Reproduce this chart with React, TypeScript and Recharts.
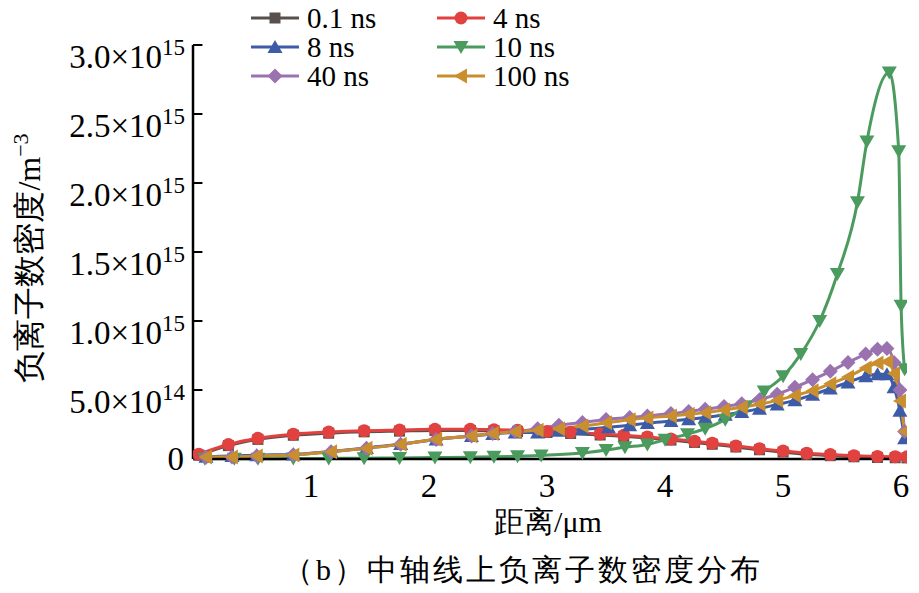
import { LineChart, Line, XAxis, YAxis, ReferenceLine } from "recharts";

// values in units of 1e14 m^-3, distance in µm
const xs01 = [0.05, 0.3, 0.55, 0.85, 1.15, 1.45, 1.75, 2.05, 2.35, 2.55, 2.75, 3.0, 3.2, 3.45, 3.65, 3.85, 4.05, 4.25, 4.4, 4.6, 4.8, 5.0, 5.2, 5.4, 5.6, 5.8, 5.95, 6.05];
const ys01 = [0.28, 0.97, 1.42, 1.72, 1.87, 1.97, 2.02, 2.07, 2.07, 2.04, 2.0, 1.92, 1.85, 1.74, 1.64, 1.52, 1.37, 1.2, 1.07, 0.87, 0.67, 0.5, 0.34, 0.24, 0.16, 0.11, 0.09, 0.08];

const xs4 = [0.05, 0.3, 0.55, 0.85, 1.15, 1.45, 1.75, 2.05, 2.35, 2.55, 2.75, 3.0, 3.2, 3.45, 3.65, 3.85, 4.05, 4.25, 4.4, 4.6, 4.8, 5.0, 5.2, 5.4, 5.6, 5.8, 5.95, 6.05];
const ys4 = [0.35, 1.05, 1.5, 1.8, 1.95, 2.05, 2.1, 2.15, 2.15, 2.12, 2.08, 2.0, 1.93, 1.82, 1.72, 1.6, 1.45, 1.28, 1.15, 0.95, 0.75, 0.58, 0.42, 0.32, 0.24, 0.19, 0.17, 0.16];

const xs8 = [0.11, 0.33, 0.54, 0.85, 1.17, 1.47, 1.76, 2.06, 2.36, 2.54, 2.73, 2.92, 3.1, 3.3, 3.52, 3.7, 3.85, 4.05, 4.2, 4.34, 4.51, 4.65, 4.8, 4.95, 5.1, 5.25, 5.4, 5.55, 5.7, 5.8, 5.88, 5.94, 5.99, 6.03];
const ys8 = [0.16, 0.22, 0.28, 0.33, 0.55, 0.8, 1.08, 1.42, 1.67, 1.82, 1.92, 1.92, 2.05, 2.15, 2.3, 2.45, 2.6, 2.75, 2.88, 3.0, 3.2, 3.4, 3.65, 3.95, 4.25, 4.65, 5.1, 5.55, 6.0, 6.15, 6.15, 5.2, 3.5, 1.5];

const xs10 = [0.1, 0.35, 0.55, 0.85, 1.15, 1.45, 1.75, 2.05, 2.35, 2.55, 2.75, 2.95, 3.3, 3.5, 3.66, 3.85, 4.0, 4.19, 4.34, 4.51, 4.68, 4.84, 5.0, 5.15, 5.31, 5.46, 5.63, 5.71, 5.9, 5.98, 6.0, 6.03];
const ys10 = [0.01, 0.01, 0.02, 0.03, 0.04, 0.06, 0.08, 0.1, 0.13, 0.16, 0.2, 0.26, 0.43, 0.65, 0.85, 1.05, 1.4, 1.8, 2.2, 2.85, 3.8, 4.9, 6.0, 7.6, 10.0, 13.4, 18.6, 23.0, 28.0, 22.3, 11.1, 6.5];

const xs40 = [0.11, 0.33, 0.54, 0.85, 1.17, 1.47, 1.76, 2.06, 2.36, 2.54, 2.73, 2.92, 3.1, 3.3, 3.5, 3.7, 3.85, 4.05, 4.2, 4.34, 4.5, 4.65, 4.8, 4.95, 5.1, 5.25, 5.4, 5.55, 5.7, 5.8, 5.88, 5.94, 5.99, 6.03];
const ys40 = [0.12, 0.15, 0.22, 0.3, 0.53, 0.78, 1.06, 1.42, 1.67, 1.85, 2.0, 2.2, 2.45, 2.65, 2.87, 3.0, 3.12, 3.29, 3.45, 3.6, 3.8, 4.0, 4.3, 4.69, 5.2, 5.75, 6.35, 7.0, 7.6, 7.95, 8.0, 7.0, 5.0, 2.0];

const xs100 = [0.11, 0.33, 0.54, 0.85, 1.17, 1.47, 1.76, 2.06, 2.36, 2.54, 2.73, 2.92, 3.1, 3.3, 3.5, 3.7, 3.85, 4.05, 4.2, 4.34, 4.5, 4.65, 4.8, 4.95, 5.1, 5.25, 5.4, 5.55, 5.7, 5.8, 5.88, 5.94, 5.99, 6.03];
const ys100 = [0.14, 0.14, 0.22, 0.29, 0.53, 0.77, 1.06, 1.43, 1.67, 1.84, 1.98, 2.08, 2.2, 2.39, 2.62, 2.85, 2.98, 3.12, 3.24, 3.36, 3.55, 3.75, 3.97, 4.25, 4.6, 4.95, 5.45, 5.95, 6.6, 6.95, 7.05, 6.2, 4.2, 2.0];

const yTicks = [0, 5, 10, 15, 20, 25, 30];
const xTicks = [1, 2, 3, 4, 5, 6];

const zip = (xs: number[], ys: number[]) => xs.map((x, i) => ({ x, y: ys[i] }));

const series = [
  { name: "0.1 ns", color: "#57504d", shape: "square", data: zip(xs01, ys01) },
  { name: "4 ns", color: "#e1413f", shape: "circle", data: zip(xs4, ys4) },
  { name: "8 ns", color: "#3d5ba6", shape: "up", data: zip(xs8, ys8) },
  { name: "10 ns", color: "#4b9a5e", shape: "down", data: zip(xs10, ys10) },
  { name: "40 ns", color: "#9b72b0", shape: "diamond", data: zip(xs40, ys40) },
  { name: "100 ns", color: "#c98f2e", shape: "left", data: zip(xs100, ys100) },
];

const serif = "'Liberation Serif', 'DejaVu Serif', serif";
const txt = { fontFamily: serif };

const marker = (shape: string, cx: number, cy: number, color: string, key?: string | number) => {
  switch (shape) {
    case "square":
      return <rect key={key} x={cx - 5.5} y={cy - 5.5} width={11} height={11} fill={color} />;
    case "circle":
      return <circle key={key} cx={cx} cy={cy} r={6.5} fill={color} />;
    case "up":
      return <polygon key={key} points={`${cx},${cy - 7} ${cx + 7.5},${cy + 6} ${cx - 7.5},${cy + 6}`} fill={color} />;
    case "down":
      return <polygon key={key} points={`${cx},${cy + 7} ${cx + 7.5},${cy - 6} ${cx - 7.5},${cy - 6}`} fill={color} />;
    case "diamond":
      return <polygon key={key} points={`${cx},${cy - 7.5} ${cx + 7.5},${cy} ${cx},${cy + 7.5} ${cx - 7.5},${cy}`} fill={color} />;
    default:
      return <polygon key={key} points={`${cx - 7},${cy} ${cx + 6},${cy - 7.5} ${cx + 6},${cy + 7.5}`} fill={color} />;
  }
};

const YTick = (props: any) => {
  const { x, y, payload } = props;
  const v = payload.value as number;
  if (v === 0) {
    return (
      <text x={x} y={y + 11} textAnchor="end" style={txt} fontSize={33} fill="#000">0</text>
    );
  }
  const exp = v >= 10 ? 15 : 14;
  const mant = (v >= 10 ? v / 10 : v).toFixed(1);
  return (
    <text x={x + 1} y={y + 23} textAnchor="end" style={txt} fontSize={33} fill="#000">
      <tspan>{mant}×10</tspan>
      <tspan dy={-13} fontSize={23}>{exp}</tspan>
    </text>
  );
};

const XTick = (props: any) => {
  const { x, y, payload } = props;
  return (
    <text x={x} y={y + 28} textAnchor="middle" style={txt} fontSize={33} fill="#000">
      {payload.value}
    </text>
  );
};

export default function App() {
  return (
    <div style={{ position: "absolute", left: 0, top: 0, width: 919, height: 593, background: "#fff" }}>
      <LineChart width={919} height={593} margin={{ top: 45, right: 12, left: 0, bottom: 54 }}>
        <XAxis
          type="number"
          dataKey="x"
          domain={[0, 6.05]}
          ticks={xTicks}
          tick={<XTick />}
          tickLine={false}
          tickSize={0}
          tickMargin={10}
          height={80}
          axisLine={{ stroke: "#000", strokeWidth: 2.5 }}
          allowDataOverflow
        />
        <YAxis
          type="number"
          domain={[0, 30]}
          ticks={yTicks}
          tick={<YTick />}
          tickLine={false}
          tickSize={0}
          tickMargin={9}
          width={193}
          axisLine={{ stroke: "#000", strokeWidth: 2.5 }}
          interval={0}
        />
        {yTicks.slice(1).map((v) => (
          <ReferenceLine
            key={`t${v}`}
            segment={[{ x: 0, y: v }, { x: 0.08, y: v }]}
            stroke="#000"
            strokeWidth={2}
            ifOverflow="visible"
          />
        ))}
        {series.map((s) => (
          <Line
            key={s.name}
            data={s.data}
            dataKey="y"
            type="monotone"
            stroke={s.color}
            strokeWidth={3}
            isAnimationActive={false}
            dot={(p: any) => marker(s.shape, p.cx, p.cy, s.color, `${s.name}-${p.index}`)}
            activeDot={false}
          />
        ))}
      </LineChart>
      <svg width={919} height={593} style={{ position: "absolute", left: 0, top: 0, pointerEvents: "none" }}>
        {series.map((s, i) => {
          const col = i % 2;
          const row = Math.floor(i / 2);
          const x0 = col === 0 ? 251 : 437;
          const cy = 18 + row * 29;
          return (
            <g key={s.name}>
              <line x1={x0} x2={x0 + 48} y1={cy} y2={cy} stroke={s.color} strokeWidth={3} />
              {marker(s.shape, x0 + 24, cy, s.color)}
              <text x={x0 + 56} y={cy + 10} style={txt} fontSize={29} fill="#000">{s.name}</text>
            </g>
          );
        })}
        <text
          transform="translate(40,258) rotate(-90)"
          textAnchor="middle"
          style={txt}
          fontSize={32}
          fill="#000"
        >
          负离子数密度/m<tspan dy={-12} fontSize={22}>−3</tspan>
        </text>
        <text x={548} y={532} textAnchor="middle" style={txt} fontSize={30} fill="#000">距离/μm</text>
        <text x={283} y={580} textLength={477} lengthAdjust="spacing" style={txt} fontSize={30} fill="#000">（b）中轴线上负离子数密度分布</text>
      </svg>
    </div>
  );
}
